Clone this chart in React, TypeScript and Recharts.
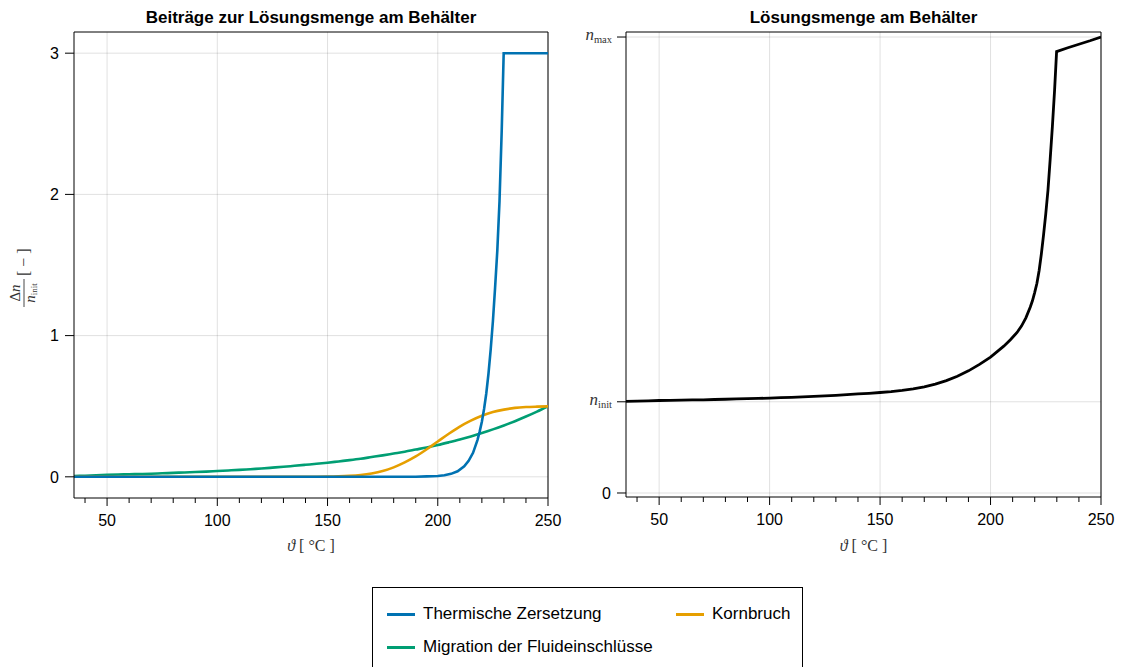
import React from 'react';
import { LineChart, Line, XAxis, YAxis, CartesianGrid, ReferenceLine } from 'recharts';

// temperatures (°C) on a 5-degree grid
const temps = [
  35, 40, 45, 50, 55, 60, 65, 70, 75, 80, 85, 90, 95, 100, 105, 110, 115, 120, 125, 130, 135, 140,
  145, 150, 155, 160, 165, 170, 175, 180, 185, 190, 195, 200, 205, 210, 215, 220, 225, 230, 235,
  240, 245, 250,
];

const migration = [
  0.005, 0.008, 0.011, 0.014, 0.016, 0.018, 0.02, 0.022, 0.025, 0.028, 0.031, 0.034, 0.037, 0.041,
  0.045, 0.049, 0.054, 0.059, 0.065, 0.071, 0.078, 0.085, 0.092, 0.1, 0.109, 0.118, 0.128, 0.14,
  0.152, 0.165, 0.178, 0.193, 0.208, 0.225, 0.244, 0.264, 0.286, 0.31, 0.336, 0.364, 0.394, 0.427,
  0.462, 0.5,
];

const grainBreak = [
  0, 0, 0, 0, 0, 0, 0, 0, 0, 0, 0, 0, 0, 0, 0, 0, 0, 0, 0, 0, 0, 0.001, 0.001, 0.0014, 0.003,
  0.0066, 0.013, 0.024, 0.041, 0.067, 0.102, 0.144, 0.195, 0.25, 0.305, 0.356, 0.398, 0.433, 0.459,
  0.476, 0.488, 0.494, 0.497, 0.499,
];

// thermal decomposition, denser near the steep rise
const thermalTemps = [
  35, 100, 150, 180, 190, 195, 200, 203, 206, 209, 212, 214, 216, 218, 219, 220, 221, 222, 223,
  224, 225, 226, 227, 228, 229, 229.9, 235, 240, 245, 250,
];
const thermal = [
  0, 0, 0, 0, 0.001, 0.003, 0.006, 0.011, 0.021, 0.039, 0.074, 0.113, 0.17, 0.26, 0.32, 0.39, 0.48,
  0.59, 0.73, 0.9, 1.1, 1.34, 1.6, 1.95, 2.45, 3, 3, 3, 3, 3,
];

// total amount at the container, in units of n_init
const totalTemps = [
  35, 40, 45, 50, 55, 60, 65, 70, 75, 80, 85, 90, 95, 100, 105, 110, 115, 120, 125, 130, 135, 140,
  145, 150, 155, 160, 165, 170, 175, 180, 185, 190, 195, 200, 203, 206, 209, 212, 214, 216, 218,
  219, 220, 221, 222, 223, 224, 225, 226, 227, 228, 229, 229.9, 235, 240, 245, 250,
];
const total = [
  1.005, 1.008, 1.011, 1.014, 1.016, 1.018, 1.02, 1.022, 1.025, 1.028, 1.031, 1.034, 1.037, 1.041,
  1.045, 1.049, 1.054, 1.059, 1.065, 1.071, 1.078, 1.086, 1.093, 1.102, 1.112, 1.125, 1.141, 1.164,
  1.193, 1.232, 1.28, 1.339, 1.41, 1.49, 1.55, 1.61, 1.68, 1.76, 1.83, 1.92, 2.04, 2.11, 2.2, 2.3,
  2.44, 2.62, 2.83, 3.06, 3.32, 3.66, 4.02, 4.42, 4.84, 4.882, 4.921, 4.959, 5.0,
];

const xTicks = [40, 50, 60, 70, 80, 90, 100, 110, 120, 130, 140, 150, 160, 170, 180, 190, 200, 210, 220, 230, 240, 250];
const xGrid = [50, 100, 150, 200, 250];
const leftYTicks = [0, 1, 2, 3];
const rightYTicks = [0, 1, 5];
const rightYLabels = ['0', 'init', 'max'];

const series = [
  { name: 'Thermische Zersetzung', color: '#0072b2' },
  { name: 'Kornbruch', color: '#e69f00' },
  { name: 'Migration der Fluideinschlüsse', color: '#009e73' },
];

const SANS = "'Liberation Sans', Arial, Helvetica, sans-serif";
const SERIF = "'Liberation Serif', 'DejaVu Serif', serif";
const GRID = 'rgba(0,0,0,0.12)';

const toRows = (xs: number[], ys: number[]) => xs.map((t, i) => ({ t, v: ys[i] }));

const XTick = ({ x, y, payload }: any) => {
  const major = payload.value % 50 === 0;
  return (
    <g>
      <line x1={x} x2={x} y1={y} y2={y + (major ? 8 : 5)} stroke="#000" strokeWidth={1} />
      {major && (
        <text x={x} y={y + 28} textAnchor="middle" fontSize={16} fontFamily={SANS} fill="#000">
          {payload.value}
        </text>
      )}
    </g>
  );
};

const LeftYTick = ({ x, y, payload }: any) => (
  <g>
    <line x1={x - 9} x2={x} y1={y} y2={y} stroke="#000" strokeWidth={1} />
    <text x={x - 15} y={y} dy="0.36em" textAnchor="end" fontSize={16} fontFamily={SANS} fill="#000">
      {payload.value}
    </text>
  </g>
);

const RightYTick = ({ x, y, payload }: any) => {
  const label = rightYLabels[rightYTicks.indexOf(payload.value)];
  return (
    <g>
      <line x1={x - 9} x2={x} y1={y} y2={y} stroke="#000" strokeWidth={1} />
      {label === '0' ? (
        <text x={x - 15} y={y} dy="0.36em" textAnchor="end" fontSize={16} fontFamily={SANS} fill="#000">
          0
        </text>
      ) : (
        <text x={x - 14} y={y + 3} textAnchor="end" fontFamily={SERIF} fill="#333">
          <tspan fontStyle="italic" fontSize={17}>n</tspan>
          <tspan fontSize={10.5} dy={3}>{label}</tspan>
        </text>
      )}
    </g>
  );
};

function Panel({ left, width, rightMargin, yWidth, xHeight, yDomain, yTicks, yTick, children }: any) {
  return (
    <div style={{ position: 'absolute', left, top: 0 }}>
      <LineChart width={width} height={560} margin={{ top: 32, right: rightMargin, bottom: 0, left: 0 }}>
        <CartesianGrid stroke={GRID} verticalValues={xGrid} horizontalValues={yTicks} />
        <XAxis
          dataKey="t"
          type="number"
          domain={[35, 250]}
          allowDataOverflow
          ticks={xTicks}
          interval={0}
          height={xHeight}
          tickSize={0}
          tickMargin={0}
          tickLine={false}
          axisLine={{ stroke: '#000' }}
          tick={<XTick />}
        />
        <YAxis
          type="number"
          domain={yDomain}
          allowDataOverflow
          ticks={yTicks}
          interval={0}
          width={yWidth}
          tickSize={0}
          tickMargin={0}
          tickLine={false}
          axisLine={{ stroke: '#000' }}
          tick={yTick}
        />
        <ReferenceLine y={yDomain[1]} stroke="#000" strokeWidth={1} />
        <ReferenceLine x={250} stroke="#000" strokeWidth={1} />
        {children}
      </LineChart>
    </div>
  );
}

export default function App() {
  return (
    <div style={{ position: 'absolute', left: 0, top: 0, width: 1122, height: 667, background: '#fff', overflow: 'hidden' }}>
      <Panel left={0} width={572} rightMargin={24} yWidth={74} xHeight={62} yDomain={[-0.15, 3.15]} yTicks={leftYTicks} yTick={<LeftYTick />}>
        <Line data={toRows(temps, migration)} dataKey="v" type="monotone" stroke={series[2].color} strokeWidth={2.6} dot={false} isAnimationActive={false} />
        <Line data={toRows(temps, grainBreak)} dataKey="v" type="monotone" stroke={series[1].color} strokeWidth={2.6} dot={false} isAnimationActive={false} />
        <Line data={toRows(thermalTemps, thermal)} dataKey="v" type="linear" stroke={series[0].color} strokeWidth={2.6} dot={false} isAnimationActive={false} />
      </Panel>
      <Panel left={560} width={560} rightMargin={19} yWidth={66} xHeight={63} yDomain={[-0.044, 5.055]} yTicks={rightYTicks} yTick={<RightYTick />}>
        <Line data={toRows(totalTemps, total)} dataKey="v" type="linear" stroke="#000" strokeWidth={2.8} dot={false} isAnimationActive={false} />
      </Panel>

      <svg width={1122} height={667} style={{ position: 'absolute', left: 0, top: 0, pointerEvents: 'none' }}>
        <text x={311} y={23} textAnchor="middle" fontSize={17} fontWeight="bold" fontFamily={SANS} fill="#000">
          Beiträge zur Lösungsmenge am Behälter
        </text>
        <text x={863.5} y={23} textAnchor="middle" fontSize={17} fontWeight="bold" fontFamily={SANS} fill="#000">
          Lösungsmenge am Behälter
        </text>

        <text x={311} y={551} textAnchor="middle" fontSize={16} fontFamily={SERIF} fill="#333">
          <tspan fontStyle="italic">ϑ</tspan>
          <tspan> [ °C ]</tspan>
        </text>
        <text x={863.5} y={551} textAnchor="middle" fontSize={16} fontFamily={SERIF} fill="#333">
          <tspan fontStyle="italic">ϑ</tspan>
          <tspan> [ °C ]</tspan>
        </text>

        <g transform="translate(24,278) rotate(-90)" fontFamily={SERIF} fill="#333">
          <text x={-15} y={-4} textAnchor="middle" fontSize={15}>
            <tspan>Δ</tspan>
            <tspan fontStyle="italic">n</tspan>
          </text>
          <line x1={-29} x2={-1} y1={0} y2={0} stroke="#333" strokeWidth={0.9} />
          <text x={-15} y={11} textAnchor="middle" fontSize={15}>
            <tspan fontStyle="italic">n</tspan>
            <tspan fontSize={9} dy={2}>init</tspan>
          </text>
          <text x={2} y={5} fontSize={16}>[ − ]</text>
        </g>
      </svg>

      <div style={{ position: 'absolute', left: 372, top: 587, width: 431, height: 90, border: '1px solid #000', boxSizing: 'border-box', fontFamily: SANS, fontSize: 17, color: '#000' }}>
        {series.map((s, i) => {
          const col = i === 1 ? 1 : 0;
          const row = i === 2 ? 1 : 0;
          return (
            <div key={s.name} style={{ position: 'absolute', left: col ? 303 : 14, top: row ? 48 : 15, display: 'flex', alignItems: 'center', height: 22 }}>
              <div style={{ width: 28, height: 3, background: s.color, marginRight: 8 }} />
              <span>{s.name}</span>
            </div>
          );
        })}
      </div>
    </div>
  );
}
